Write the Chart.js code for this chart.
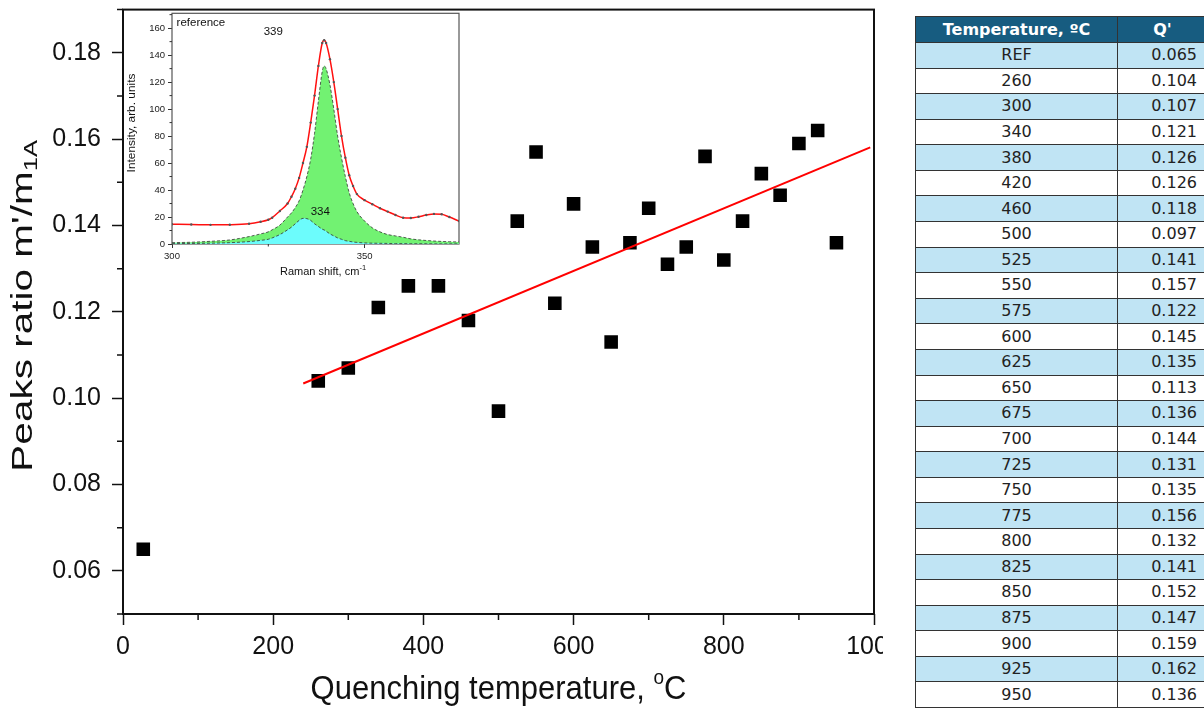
<!DOCTYPE html>
<html>
<head>
<meta charset="utf-8">
<title>Peaks ratio vs quenching temperature</title>
<script src="https://cdn.jsdelivr.net/npm/chart.js@4.4.1/dist/chart.umd.min.js"></script>
<style>
  html, body { margin: 0; padding: 0; background: #fff; }
  #page { position: relative; width: 1204px; height: 713px; overflow: hidden; background: #fff; }
  #mainClip { position: absolute; left: 0; top: 0; width: 883px; height: 713px; overflow: hidden; }
  #mainChart { position: absolute; left: 0; top: 0; }
  #insetChart { position: absolute; left: 124px; top: 9px; }
  #qTable {
    position: absolute; left: 915px; top: 16px; width: 292px;
    border-collapse: collapse; table-layout: fixed;
    font-family: 'DejaVu Sans', Verdana, sans-serif; font-size: 16px; color: #222;
  }
  #qTable th {
    background: #175c80; color: #fff; font-weight: bold;
    height: 25px; padding: 0; border: 1px solid #333; text-align: center;
  }
  #qTable td { height: 24.58px; padding: 0; border: 1px solid #333; background: #fff; line-height: 18px; }
  #qTable td.t { text-align: center; }
  #qTable td.q { text-align: right; padding-right: 10px; }
  #qTable tr.alt td { background: #c0e4f4; }
</style>
</head>
<body>
<div id="page">
  <div id="mainClip"><canvas id="mainChart" width="940" height="713"></canvas></div>
  <canvas id="insetChart" width="341" height="275"></canvas>
  <table id="qTable">
    <colgroup><col style="width:202px"><col style="width:90px"></colgroup>
    <thead><tr><th>Temperature, ºC</th><th>Q'</th></tr></thead>
    <tbody id="qRows"></tbody>
  </table>
</div>
<script>
  // table / scatter values
  var tableTemps = ['REF', '260', '300', '340', '380', '420', '460', '500', '525', '550', '575', '600', '625',
    '650', '675', '700', '725', '750', '775', '800', '825', '850', '875', '900', '925', '950'];
  var qValues = [0.065, 0.104, 0.107, 0.121, 0.126, 0.126, 0.118, 0.097, 0.141, 0.157, 0.122, 0.145, 0.135,
    0.113, 0.136, 0.144, 0.131, 0.135, 0.156, 0.132, 0.141, 0.152, 0.147, 0.159, 0.162, 0.136];
  var plotTemps = [27, 260, 300, 340, 380, 420, 460, 500, 525, 550, 575, 600, 625,
    650, 675, 700, 725, 750, 775, 800, 825, 850, 875, 900, 925, 950];

  // linear fit
  var fitX = [240, 995];
  var fitY = [0.1034, 0.1581];

  // main axes
  var xMajorTicks = [0, 200, 400, 600, 800, 1000];
  var xMinorTicks = [100, 300, 500, 700, 900];
  var yMajorTicks = [0.06, 0.08, 0.10, 0.12, 0.14, 0.16, 0.18];
  var yMinorTicks = [0.05, 0.07, 0.09, 0.11, 0.13, 0.15, 0.17, 0.19];

  // inset: Raman spectrum of the reference sample
  var ramanX = [300, 305, 310, 315, 320, 323, 325, 326, 328, 330, 331, 332, 333, 334, 335, 336, 337, 338, 339, 339.5,
    340, 341, 342, 343, 344, 345, 346, 347, 348, 350, 352, 354, 356, 358, 360, 362, 364, 366, 368, 370, 372, 374.5];
  var ramanTotal = [14.6, 14.5, 14.2, 14.3, 15, 16.5, 18, 19.5, 24.5, 30, 35, 41, 49, 60, 72, 90, 110, 132, 149, 151,
    149, 137, 120, 100, 80, 64, 51, 43, 37, 32.5, 29.5, 26.5, 24, 21.5, 19.5, 19.3, 20.2, 21.5, 22.3, 22, 20, 17];
  var peak339 = [1, 1.3, 2, 3, 5.5, 7.5, 9, 10.5, 14, 20, 23, 27, 32, 40, 50, 63, 82, 106, 128, 132,
    130, 118, 100, 80, 64, 50, 38, 30, 24, 17, 12, 9, 7, 6, 5, 3.8, 3.1, 2.6, 2.2, 1.9, 1.7, 1.5];
  var peak334 = [0.3, 0.4, 0.6, 1, 1.8, 2.7, 3.5, 4.5, 7, 10.5, 12.5, 15, 17.5, 19, 18.8, 17.5, 15, 13, 11, 10.4,
    9.5, 7.5, 6, 4.5, 3.5, 2.5, 2, 1.5, 1.2, 0.8, 0.6, 0.5, 0.4, 0.3, 0.3, 0.2, 0.2, 0.2, 0.1, 0.1, 0.1, 0.1];
  var insetXTicks = [300, 350];
  var insetXMinor = [325];
  var insetYTicks = [0, 20, 40, 60, 80, 100, 120, 140, 160];
  var insetYMinor = [10, 30, 50, 70, 90, 110, 130, 150, 170];
  var insetNotes = [
    { text: 'reference', x: 301.2, y: 164, align: 'left' },
    { text: '339', x: 326.3, y: 157, align: 'center' },
    { text: '334', x: 338.5, y: 24, align: 'center' }
  ];

  var SANS = "'Liberation Sans', Arial, sans-serif";

  function pairs(xs, ys) {
    return xs.map(function (x, i) { return { x: x, y: ys[i] }; });
  }

  // text in pieces (super/subscripts), sy stretches it vertically on screen
  function drawRich(ctx, parts, x, y, angle, sy, color) {
    ctx.save();
    ctx.translate(x, y);
    ctx.scale(1, sy);
    ctx.rotate(angle);
    ctx.fillStyle = color;
    ctx.textAlign = 'left';
    ctx.textBaseline = 'middle';
    var total = 0;
    parts.forEach(function (p) {
      ctx.font = p.size + 'px ' + SANS;
      p.w = ctx.measureText(p.text).width;
      total += p.w;
    });
    var cx = -total / 2;
    parts.forEach(function (p) {
      ctx.font = p.size + 'px ' + SANS;
      ctx.fillText(p.text, cx, p.dy || 0);
      cx += p.w;
    });
    ctx.restore();
  }

  var framePlugin = {
    id: 'frame',
    beforeDatasetsDraw: function (chart, args, opts) {
      var a = chart.chartArea, ctx = chart.ctx;
      ctx.save();
      ctx.strokeStyle = opts.color;
      ctx.lineWidth = opts.width;
      ctx.strokeRect(a.left, a.top, a.right - a.left, a.bottom - a.top);
      ctx.restore();
    }
  };

  var minorTickPlugin = {
    id: 'minorTicks',
    afterDraw: function (chart, args, opts) {
      var a = chart.chartArea, ctx = chart.ctx;
      var xs = chart.scales.x, ys = chart.scales.y;
      ctx.save();
      ctx.strokeStyle = opts.color;
      ctx.lineWidth = opts.width;
      ctx.beginPath();
      opts.x.forEach(function (v) {
        var px = xs.getPixelForValue(v);
        ctx.moveTo(px, a.bottom);
        ctx.lineTo(px, a.bottom + opts.length);
      });
      opts.y.forEach(function (v) {
        var py = ys.getPixelForValue(v);
        ctx.moveTo(a.left, py);
        ctx.lineTo(a.left - opts.length, py);
      });
      ctx.stroke();
      ctx.restore();
    }
  };

  var titlePlugin = {
    id: 'richTitles',
    afterDraw: function (chart, args, opts) {
      var a = chart.chartArea;
      opts.items.forEach(function (it) {
        var p = it.at(a);
        drawRich(chart.ctx, it.parts, p.x, p.y, it.angle || 0, it.sy || 1, opts.color);
      });
    }
  };

  var notePlugin = {
    id: 'notes',
    afterDatasetsDraw: function (chart, args, opts) {
      var ctx = chart.ctx;
      ctx.save();
      ctx.fillStyle = opts.color;
      ctx.font = opts.size + 'px ' + SANS;
      ctx.textBaseline = 'middle';
      opts.items.forEach(function (n) {
        ctx.textAlign = n.align;
        ctx.fillText(n.text, chart.scales.x.getPixelForValue(n.x), chart.scales.y.getPixelForValue(n.y));
      });
      ctx.restore();
    }
  };

  function tickSetter(values) {
    return function (scale) {
      scale.ticks = values.map(function (v) { return { value: v }; });
    };
  }

  // main chart
  new Chart(document.getElementById('mainChart'), {
    type: 'scatter',
    data: {
      datasets: [
        {
          type: 'line',
          label: 'Linear fit',
          data: pairs(fitX, fitY),
          borderColor: '#ff0000',
          borderWidth: 2,
          pointRadius: 0,
          fill: false
        },
        {
          type: 'scatter',
          label: "Q'",
          data: pairs(plotTemps, qValues),
          pointStyle: 'rect',
          pointRadius: 9.6,
          pointHoverRadius: 9.6,
          backgroundColor: '#000',
          borderColor: '#000',
          borderWidth: 0
        }
      ]
    },
    options: {
      responsive: false,
      animation: false,
      layout: { padding: { top: 7.5, right: 66, bottom: 0, left: 0 } },
      plugins: {
        legend: { display: false },
        tooltip: { enabled: false },
        frame: { color: '#111', width: 2 },
        minorTicks: { x: xMinorTicks, y: yMinorTicks, length: 6, width: 1.5, color: '#111' },
        richTitles: {
          color: '#111',
          items: [
            {
              parts: [{ text: 'Quenching temperature, ', size: 31 }, { text: 'o', size: 19, dy: -11 }, { text: 'C', size: 31 }],
              sy: 1.1,
              at: function (a) { return { x: (a.left + a.right) / 2, y: a.bottom + 76 }; }
            },
            {
              parts: [{ text: "Peaks ratio m'/m", size: 30 }, { text: '1A', size: 19, dy: 8 }],
              angle: -Math.PI / 2,
              sy: 1.35,
              at: function (a) { return { x: 24, y: (a.top + a.bottom) / 2 - 6 }; }
            }
          ]
        }
      },
      scales: {
        x: {
          type: 'linear',
          min: 0,
          max: 1000,
          afterBuildTicks: tickSetter(xMajorTicks),
          afterFit: function (s) { s.height = 99; s.paddingLeft = 0; s.paddingRight = 0; },
          border: { display: false },
          grid: { drawOnChartArea: false, tickLength: 11, tickWidth: 1.5, tickColor: '#111' },
          ticks: {
            color: '#111', font: { family: SANS, size: 25 }, padding: 7, maxRotation: 0, autoSkip: false,
            callback: function (v) { return String(v); }
          }
        },
        y: {
          type: 'linear',
          min: 0.05,
          max: 0.19,
          afterBuildTicks: tickSetter(yMajorTicks),
          afterFit: function (s) { s.width = 123; s.paddingTop = 0; s.paddingBottom = 0; },
          border: { display: false },
          grid: { drawOnChartArea: false, tickLength: 11, tickWidth: 1.5, tickColor: '#111' },
          ticks: {
            color: '#111', font: { family: SANS, size: 25 }, padding: 11, autoSkip: false,
            callback: function (v) { return Number(v).toFixed(2); }
          }
        }
      }
    },
    plugins: [framePlugin, minorTickPlugin, titlePlugin]
  });

  // inset chart
  new Chart(document.getElementById('insetChart'), {
    type: 'line',
    data: {
      datasets: [
        {
          label: 'Measured and fit',
          data: pairs(ramanX, ramanTotal),
          borderColor: '#ff1010',
          borderWidth: 1.5,
          cubicInterpolationMode: 'monotone',
          pointRadius: 1.2,
          pointBackgroundColor: '#555',
          pointBorderWidth: 0,
          fill: false
        },
        {
          label: '334',
          data: pairs(ramanX, peak334),
          borderColor: '#333',
          borderWidth: 0.8,
          borderDash: [3, 2],
          backgroundColor: '#6cfcfc',
          cubicInterpolationMode: 'monotone',
          pointRadius: 0,
          fill: 'origin'
        },
        {
          label: '339',
          data: pairs(ramanX, peak339),
          borderColor: '#333',
          borderWidth: 0.8,
          borderDash: [3, 2],
          backgroundColor: '#72f272',
          cubicInterpolationMode: 'monotone',
          pointRadius: 0,
          fill: 'origin'
        }
      ]
    },
    options: {
      responsive: false,
      animation: false,
      layout: { padding: { top: 4.3, right: 6, bottom: 0, left: 0 } },
      plugins: {
        legend: { display: false },
        tooltip: { enabled: false },
        frame: { color: '#555', width: 1.2 },
        minorTicks: { x: insetXMinor, y: insetYMinor, length: 2.5, width: 1, color: '#333' },
        notes: { items: insetNotes, size: 11.5, color: '#111' },
        richTitles: {
          color: '#111',
          items: [
            {
              parts: [{ text: 'Raman shift, cm', size: 11 }, { text: '-1', size: 7.5, dy: -4 }],
              at: function () { return { x: 199, y: 263 }; }
            },
            {
              parts: [{ text: 'Intensity, arb. units', size: 11 }],
              angle: -Math.PI / 2,
              sy: 1.08,
              at: function () { return { x: 8, y: 114 }; }
            }
          ]
        }
      },
      scales: {
        x: {
          type: 'linear',
          min: 300,
          max: 374.5,
          afterBuildTicks: tickSetter(insetXTicks),
          afterFit: function (s) { s.height = 40; s.paddingLeft = 0; s.paddingRight = 0; },
          border: { display: false },
          grid: { drawOnChartArea: false, tickLength: 4, tickWidth: 1, tickColor: '#333' },
          ticks: { color: '#222', font: { family: SANS, size: 9.5 }, padding: 3, maxRotation: 0, autoSkip: false }
        },
        y: {
          type: 'linear',
          min: 0,
          max: 171,
          afterBuildTicks: tickSetter(insetYTicks),
          afterFit: function (s) { s.width = 48; s.paddingTop = 0; s.paddingBottom = 0; },
          border: { display: false },
          grid: { drawOnChartArea: false, tickLength: 4, tickWidth: 1, tickColor: '#333' },
          ticks: { color: '#222', font: { family: SANS, size: 9.5 }, padding: 3, autoSkip: false }
        }
      }
    },
    plugins: [framePlugin, minorTickPlugin, titlePlugin, notePlugin]
  });

  // table
  var rows = document.getElementById('qRows');
  rows.innerHTML = tableTemps.map(function (t, i) {
    return '<tr' + (i % 2 === 0 ? ' class="alt"' : '') + '>' +
      '<td class="t">' + t + '</td>' +
      '<td class="q">' + qValues[i].toFixed(3) + '</td>' +
      '</tr>';
  }).join('');
</script>
</body>
</html>
